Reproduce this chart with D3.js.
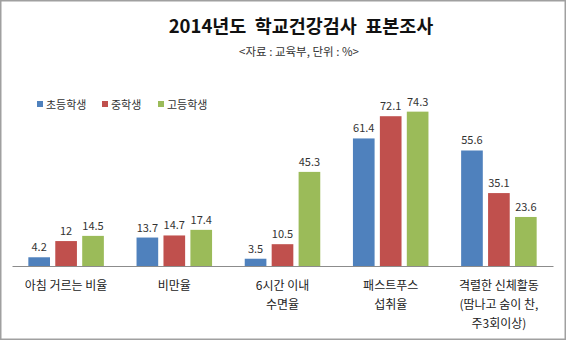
<!DOCTYPE html>
<html>
<head>
<meta charset="utf-8">
<script src="https://cdn.jsdelivr.net/npm/d3@7"></script>
<style>
  html, body { margin: 0; padding: 0; background: #fff; }
  svg { display: block; font-family: "Noto Sans CJK KR", "Noto Sans", sans-serif; }
  .pre { white-space: pre; }
</style>
</head>
<body>
<svg id="chart" width="566" height="340"></svg>
<script>
// 2014년도 학교건강검사 표본조사 (단위: %)
const categories = [
  ["아침 거르는 비율"],
  ["비만율"],
  ["6시간 이내", "수면율"],
  ["패스트푸스", "섭취율"],
  ["격렬한 신체활동", "(땀나고 숨이 찬,", "주3회이상)"]
];
const seriesNames = ["초등학생", "중학생", "고등학생"];
const elementary = [4.2, 13.7, 3.5, 61.4, 55.6];
const middle     = [12, 14.7, 10.5, 72.1, 35.1];
const high       = [14.5, 17.4, 45.3, 74.3, 23.6];
const colors = ["#4F81BD", "#C0504D", "#9BBB59"];

const seriesValues = [elementary, middle, high];
const keys = categories.map((c, i) => "c" + i);

const svg = d3.select("#chart");
const W = 566, H = 340;

// outer frame
svg.append("rect")
  .attr("x", 0.75).attr("y", 0.75)
  .attr("width", W - 1.5).attr("height", H - 1.5)
  .attr("fill", "#fff").attr("stroke", "#a0a0a0").attr("stroke-width", 1.5);

// titles
svg.append("text")
  .attr("class", "pre")
  .attr("x", 301).attr("y", 33)
  .attr("text-anchor", "middle")
  .attr("font-size", 18.5).attr("font-weight", "bold").attr("fill", "#111")
  .text("2014년도  학교건강검사  표본조사");
svg.append("text")
  .attr("class", "pre")
  .attr("x", 299).attr("y", 56)
  .attr("text-anchor", "middle")
  .attr("font-size", 11.5).attr("fill", "#333")
  .text("<자료 : 교육부, 단위 : %>");

// scales
const x0 = d3.scaleBand().domain(keys).range([12, 553])
  .paddingInner(0.302).paddingOuter(0.151);
const x1 = d3.scaleBand().domain(seriesNames).range([0, x0.bandwidth()])
  .paddingInner(0.196).paddingOuter(0);
const y = d3.scaleLinear().domain([0, 80]).range([266, 99.8]);

// bars with value labels
const groups = svg.append("g").selectAll("g")
  .data(keys)
  .join("g")
  .attr("transform", d => `translate(${x0(d)},0)`);

groups.each(function (k, ci) {
  const g = d3.select(this);
  seriesNames.forEach((s, si) => {
    const v = seriesValues[si][ci];
    g.append("rect")
      .attr("x", x1(s)).attr("y", y(v))
      .attr("width", x1.bandwidth()).attr("height", y(0) - y(v))
      .attr("fill", colors[si]);
    g.append("text")
      .attr("x", x1(s) + x1.bandwidth() / 2)
      .attr("y", y(v) - 6)
      .attr("text-anchor", "middle")
      .attr("font-size", 11).attr("fill", "#333")
      .text(v);
  });
});

// category axis
const xAxis = svg.append("g").attr("transform", `translate(0,${y(0)})`)
  .call(d3.axisBottom(x0).tickSize(0).tickFormat(""));
xAxis.select(".domain").attr("stroke", "#8c8c8c").attr("stroke-width", 1);

keys.forEach((k, i) => {
  const t = svg.append("text")
    .attr("x", x0(k) + x0.bandwidth() / 2)
    .attr("y", 290)
    .attr("text-anchor", "middle")
    .attr("font-size", 12).attr("fill", "#222");
  categories[i].forEach((line, li) => {
    t.append("tspan")
      .attr("x", x0(k) + x0.bandwidth() / 2)
      .attr("dy", li === 0 ? 0 : 19)
      .text(line);
  });
});

// legend
const legendX = [37, 102, 158];
seriesNames.forEach((s, i) => {
  const g = svg.append("g").attr("transform", `translate(${legendX[i]},101)`);
  g.append("rect").attr("width", 6).attr("height", 6).attr("fill", colors[i]);
  g.append("text").attr("x", 9).attr("y", 7.5)
    .attr("font-size", 11).attr("fill", "#333").text(s);
});
</script>
</body>
</html>
